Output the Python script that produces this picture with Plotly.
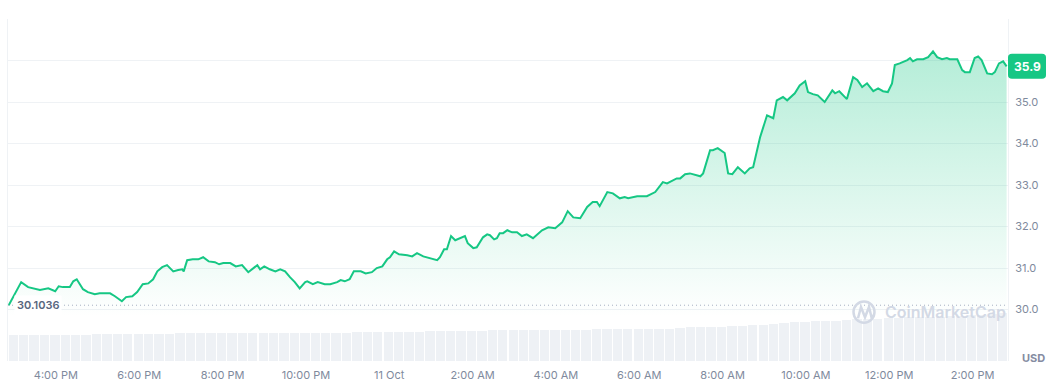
import plotly.graph_objects as go
import pandas as pd

# ---------------- data ----------------
times_oct10 = [
    "14:52", "15:01", "15:10", "15:20", "15:27", "15:37", "15:49", "15:59",
    "16:04", "16:10", "16:20", "16:25", "16:30", "16:39", "16:46", "16:56",
    "17:03", "17:18", "17:25", "17:35", "17:41", "17:50", "17:57", "18:05",
    "18:13", "18:20", "18:26", "18:33", "18:40", "18:49", "18:56", "19:02",
    "19:04", "19:09", "19:17", "19:25", "19:32", "19:40", "19:49", "19:55",
    "20:01", "20:11", "20:19", "20:28", "20:37", "20:50", "20:54", "21:00",
    "21:08", "21:16", "21:23", "21:30", "21:37", "21:44", "21:51", "21:59",
    "22:02", "22:10", "22:17", "22:27", "22:35", "22:45", "22:50", "22:56",
    "23:03", "23:09", "23:19", "23:26", "23:35", "23:42", "23:50", "23:57",
]
prices_oct10 = [
    30.10, 30.39, 30.66, 30.54, 30.51, 30.47, 30.51, 30.44,
    30.56, 30.54, 30.54, 30.68, 30.73, 30.49, 30.42, 30.37,
    30.39, 30.39, 30.32, 30.20, 30.30, 30.32, 30.42, 30.61,
    30.63, 30.73, 30.92, 31.02, 31.07, 30.92, 30.95, 30.97,
    30.92, 31.19, 31.21, 31.21, 31.26, 31.16, 31.14, 31.09,
    31.12, 31.12, 31.04, 31.07, 30.90, 31.07, 30.97, 31.04,
    30.97, 30.92, 30.97, 30.92, 30.78, 30.66, 30.51, 30.66,
    30.68, 30.61, 30.66, 30.61, 30.61, 30.66, 30.71, 30.68,
    30.73, 30.92, 30.92, 30.87, 30.90, 31.00, 31.04, 31.21,
]
times_oct11 = [
    "00:01", "00:07", "00:14", "00:26", "00:33", "00:40", "00:49", "00:59",
    "01:09", "01:13", "01:19", "01:23", "01:29", "01:35", "01:42", "01:49",
    "01:53", "02:01", "02:06", "02:15", "02:21", "02:25", "02:31", "02:35",
    "02:39", "02:44", "02:50", "02:57", "03:04", "03:08", "03:11", "03:18",
    "03:27", "03:40", "03:49", "03:59", "04:09", "04:17", "04:25", "04:35",
    "04:45", "04:53", "04:59", "05:03", "05:14", "05:22", "05:32", "05:39",
    "05:44", "05:57", "06:11", "06:23", "06:34", "06:40", "06:54", "06:59",
    "07:06", "07:13", "07:28", "07:32", "07:42", "07:46", "07:53", "08:03",
    "08:08", "08:14", "08:22", "08:32", "08:39", "08:44", "08:54", "09:04",
    "09:13", "09:18", "09:27", "09:33", "09:44", "09:51", "09:59", "10:03",
    "10:10", "10:17", "10:27", "10:38", "10:42", "10:48", "10:59", "11:08",
    "11:14", "11:21", "11:28", "11:37", "11:44", "11:51", "11:58", "12:04",
    "12:08", "12:15", "12:26", "12:30", "12:34", "12:40", "12:49", "12:56",
    "13:03", "13:09", "13:16", "13:23", "13:27", "13:38", "13:45", "13:49",
    "13:56", "14:03", "14:08", "14:13", "14:21", "14:28", "14:32", "14:38",
    "14:44", "14:49",
]
prices_oct11 = [
    31.26, 31.40, 31.33, 31.31, 31.28, 31.36, 31.28, 31.24,
    31.19, 31.26, 31.45, 31.45, 31.77, 31.67, 31.72, 31.77,
    31.60, 31.48, 31.50, 31.74, 31.81, 31.79, 31.69, 31.72,
    31.84, 31.84, 31.91, 31.86, 31.86, 31.81, 31.77, 31.81,
    31.72, 31.91, 31.98, 31.96, 32.10, 32.37, 32.22, 32.20,
    32.47, 32.59, 32.59, 32.49, 32.83, 32.80, 32.68, 32.71,
    32.68, 32.73, 32.73, 32.83, 33.07, 33.04, 33.16, 33.16,
    33.26, 33.28, 33.21, 33.28, 33.84, 33.84, 33.89, 33.77,
    33.28, 33.26, 33.43, 33.28, 33.40, 33.43, 34.15, 34.68,
    34.61, 35.04, 35.12, 35.04, 35.21, 35.40, 35.50, 35.24,
    35.19, 35.16, 35.00, 35.28, 35.21, 35.26, 35.07, 35.60,
    35.53, 35.36, 35.45, 35.26, 35.33, 35.26, 35.24, 35.45,
    35.89, 35.93, 36.01, 36.06, 35.98, 36.03, 36.03, 36.08,
    36.22, 36.08, 36.03, 36.06, 36.03, 36.03, 35.77, 35.72,
    35.72, 36.06, 36.10, 36.01, 35.69, 35.67, 35.72, 35.93,
    35.98, 35.86,
]
open_price = 30.1036
open_label = "30.1036"
last_label = "35.9"

# volume (M USD), one bar per 15 minutes
volume_m = [
    9.1, 9.1, 9.2, 9.2, 9.2, 9.3, 9.3, 9.3, 9.4, 9.4, 9.4, 9.5, 9.5, 9.6,
    9.6, 9.6, 9.7, 9.7, 9.7, 9.7, 9.8, 9.8, 9.8, 9.8, 9.8, 9.8, 9.8, 9.8,
    9.8, 9.8, 9.9, 10.0, 10.0, 10.1, 10.2, 10.2, 10.2,
    10.3, 10.3, 10.3, 10.4, 10.5, 10.5,
    10.6, 10.7, 10.7, 10.8, 10.8,
    10.9, 10.9, 10.9, 10.9, 11.0, 11.0, 11.0, 11.0, 11.1, 11.2,
    11.2, 11.2, 11.3, 11.3, 11.4, 11.4, 11.6, 11.8, 11.9,
    12.0, 12.1, 12.2, 12.3, 12.5, 12.8, 13.1, 13.4, 13.6, 13.8,
    13.9, 14.0, 14.1, 14.3, 14.6,
    14.7, 14.8, 15.0, 15.2, 15.3, 15.4, 15.5, 15.6, 15.8, 15.9, 16.1, 16.3, 16.5, 16.7,
]

x_tick_times = [
    "2024-10-10 16:00", "2024-10-10 18:00", "2024-10-10 20:00", "2024-10-10 22:00",
    "2024-10-11 00:00", "2024-10-11 02:00", "2024-10-11 04:00", "2024-10-11 06:00",
    "2024-10-11 08:00", "2024-10-11 10:00", "2024-10-11 12:00", "2024-10-11 14:00",
]
x_tick_text = ["4:00 PM", "6:00 PM", "8:00 PM", "10:00 PM", "11 Oct", "2:00 AM",
               "4:00 AM", "6:00 AM", "8:00 AM", "10:00 AM", "12:00 PM", "2:00 PM"]
y_tick_vals = [30, 31, 32, 33, 34, 35, 36, 37]
y_tick_text = ["30.0", "31.0", "32.0", "33.0", "34.0", "35.0", "", ""]

assert len(times_oct10) == len(prices_oct10)
assert len(times_oct11) == len(prices_oct11)

times = pd.to_datetime(["2024-10-10 " + t for t in times_oct10] +
                       ["2024-10-11 " + t for t in times_oct11])
prices = prices_oct10 + prices_oct11
vol_times = pd.date_range("2024-10-10 14:58:30", periods=len(volume_m), freq="15min")

GREEN = "#16c784"
GRID = "#eff2f5"
TXT = "#808a9d"
FONT = "Inter"

x_start = pd.Timestamp("2024-10-10 14:51")
x_end = pd.Timestamp("2024-10-11 14:51")
y_lo, y_hi = 28.76, 37.0

fig = go.Figure()

fig.add_trace(go.Bar(
    x=vol_times, y=volume_m, yaxis="y2",
    width=13.5 * 60 * 1000,
    marker=dict(color="#eef1f5", line=dict(width=0)),
    hoverinfo="skip", showlegend=False,
))

fig.add_trace(go.Scatter(
    x=times, y=prices, mode="lines",
    line=dict(color=GREEN, width=2),
    fill="tozeroy",
    fillgradient=dict(type="vertical",
                      colorscale=[[0, "rgba(22,199,132,0.0)"],
                                  [1, "rgba(22,199,132,0.32)"]],
                      start=29.8, stop=max(prices)),
    showlegend=False,
))

shapes = [
    # open price dotted line
    dict(type="line", xref="paper", x0=0.0, x1=1.0, yref="y",
         y0=open_price, y1=open_price, layer="above",
         line=dict(color="#a7b1c2", width=1, dash="1px,3px")),
]
# last price badge (rounded rect)
bx0, bx1 = 1.0, 1.038
by0, by1 = prices[-1] - 0.30, prices[-1] + 0.30
rx, ry = 0.004, 0.09
badge_path = (f"M {bx0+rx},{by0} L {bx1-rx},{by0} Q {bx1},{by0} {bx1},{by0+ry} "
              f"L {bx1},{by1-ry} Q {bx1},{by1} {bx1-rx},{by1} L {bx0+rx},{by1} "
              f"Q {bx0},{by1} {bx0},{by1-ry} L {bx0},{by0+ry} Q {bx0},{by0} {bx0+rx},{by0} Z")
shapes.append(dict(type="path", xref="paper", yref="y", path=badge_path,
                   fillcolor=GREEN, line=dict(width=0), layer="above"))
# watermark logo
shapes.append(dict(type="circle", xref="paper", yref="paper",
                   x0=0.8455, x1=0.8665, y0=0.112, y1=0.174,
                   line=dict(color="#d3d9e5", width=2.5), layer="above"))
shapes.append(dict(type="path", xref="paper", yref="paper",
                   path="M 0.850,0.125 L 0.853,0.158 L 0.857,0.128 L 0.861,0.158 L 0.8635,0.128 L 0.8665,0.135",
                   line=dict(color="#d3d9e5", width=2.5), layer="above"))

annotations = [
    dict(text=open_label, xref="paper", x=0.006, xanchor="left",
         yref="y", y=open_price, yanchor="middle", showarrow=False,
         bgcolor="white", borderpad=2,
         font=dict(family=FONT, size=11, color="#58667e", weight=600)),
    dict(text=last_label, xref="paper", x=(bx0 + bx1) / 2, xanchor="center",
         yref="y", y=prices[-1], yanchor="middle", showarrow=False,
         font=dict(family=FONT, size=12, color="white", weight=700)),
    dict(text="USD", xref="paper", x=1.012, xanchor="left",
         yref="paper", y=0.01, yanchor="middle", showarrow=False,
         font=dict(family=FONT, size=11, color="#858ca2", weight=700)),
    dict(text="CoinMarketCap", xref="paper", x=0.875, xanchor="left",
         yref="paper", y=0.142, yanchor="middle", showarrow=False,
         font=dict(family=FONT, size=16, color="#d3d9e5", weight=600)),
]

fig.update_layout(
    width=1056, height=385,
    margin=dict(l=8, r=48, t=19, b=24, autoexpand=False),
    paper_bgcolor="white", plot_bgcolor="white",
    font=dict(family=FONT, size=11, color=TXT),
    bargap=0,
    shapes=shapes, annotations=annotations,
    xaxis=dict(
        type="date", range=[x_start, x_end], automargin=False,
        tickvals=pd.to_datetime(x_tick_times), ticktext=x_tick_text,
        showgrid=False, zeroline=False, showline=False,
        ticks="outside", ticklen=4, tickcolor="rgba(0,0,0,0)",
        tickfont=dict(family=FONT, size=11, color=TXT),
    ),
    yaxis=dict(
        side="right", range=[y_lo, y_hi], automargin=False,
        tickvals=y_tick_vals, ticktext=y_tick_text,
        showgrid=True, gridcolor=GRID, gridwidth=1,
        zeroline=False, showline=True, linecolor=GRID, mirror=True,
        ticks="outside", ticklen=4, tickcolor="rgba(0,0,0,0)",
        tickfont=dict(family=FONT, size=11, color=TXT),
    ),
    yaxis2=dict(overlaying="y", range=[0, 120], visible=False),
)

fig.write_html("out.html")
